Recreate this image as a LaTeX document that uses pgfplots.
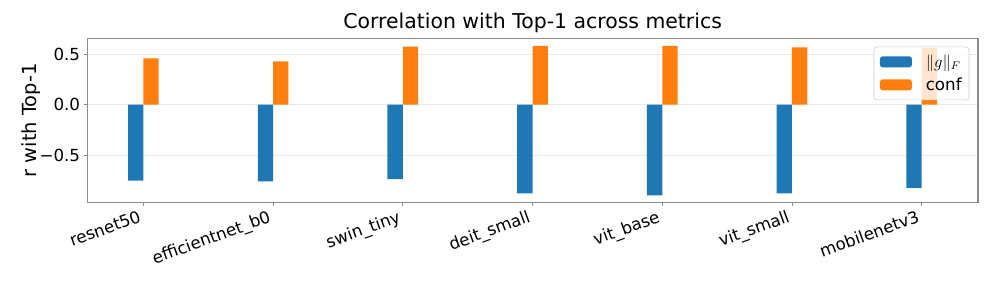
\documentclass[border=0pt]{standalone}
\usepackage{pgfplots}
\pgfplotsset{compat=1.18}
\usepackage{fontspec}
\setmainfont{DejaVu Sans}
\definecolor{mplblue}{HTML}{1F77B4}
\definecolor{mplorange}{HTML}{FF7F0E}
\definecolor{framegray}{HTML}{8A8A8A}
\definecolor{gridgray}{HTML}{E8E8E8}
\begin{document}
\begin{tikzpicture}
\useasboundingbox (-62.86pt,-59.4pt) rectangle (654.26pt,145.8pt);
\begin{axis}[
  at={(0,0)}, anchor=south west,
  scale only axis, width=641.3pt, height=118.1pt,
  xmin=-0.432, xmax=6.434, ymin=-0.965, ymax=0.653,
  xtick={0,1,2,3,4,5,6},
  xticklabels={resnet50,efficientnet\_b0,swin\_tiny,deit\_small,vit\_base,vit\_small,mobilenetv3},
  ytick={-0.5,0,0.5},
  yticklabels={−0.5,0.0,0.5},
  tick align=outside, major tick length=2.5pt,
  tick style={framegray, line width=0.6pt},
  xtick pos=bottom, ytick pos=left,
  axis line style={framegray, line width=0.8pt},
  ymajorgrids, grid style={gridgray, line width=0.7pt},
  ticklabel style={font=\fontsize{12}{14}\selectfont},
  xticklabel style={xshift=-4pt, yshift=-2.5pt, rotate=20, anchor=north east, inner sep=0pt},
  yticklabel style={inner sep=0pt, xshift=-2.5pt},
  title={Correlation with Top-1 across metrics},
  title style={at={(axis description cs:0.5,1)}, anchor=base, yshift=1.3pt, inner sep=0pt, font=\fontsize{14.7}{17}\selectfont},
  ylabel={r with Top-1},
  ylabel style={at={(axis description cs:-0.0736,0.5)}, anchor=north, inner sep=0pt, font=\fontsize{14}{17}\selectfont},
  ybar, bar width=0.118,
  legend style={at={(rel axis cs:1,1)}, anchor=north east, xshift=-6.3pt, yshift=-5.9pt,
    draw=gray!40, rounded corners=2pt, fill=white, fill opacity=0.8, text opacity=1,
    font=\fontsize{12}{14}\selectfont, inner xsep=4.3pt, inner ysep=3.5pt, row sep=2pt,
    nodes={inner xsep=1pt},
    /tikz/every odd column/.append style={column sep=9pt}},
  legend cell align=left,
  legend image code/.code={\fill[#1, fill opacity=1] (0pt,-4pt) rectangle (23pt,4pt);},
]
\addplot[fill=mplblue, draw=none, bar shift=-0.059] coordinates {
 (0,-0.750) (1,-0.756) (2,-0.734) (3,-0.875) (4,-0.895) (5,-0.875) (6,-0.820)};
\addlegendentry{$\|g\|_F$}
\addplot[fill=mplorange, draw=none, bar shift=0.059] coordinates {
 (0,0.458) (1,0.428) (2,0.572) (3,0.579) (4,0.579) (5,0.566) (6,0.560)};
\addlegendentry{conf}
\end{axis}
\end{tikzpicture}
\end{document}
